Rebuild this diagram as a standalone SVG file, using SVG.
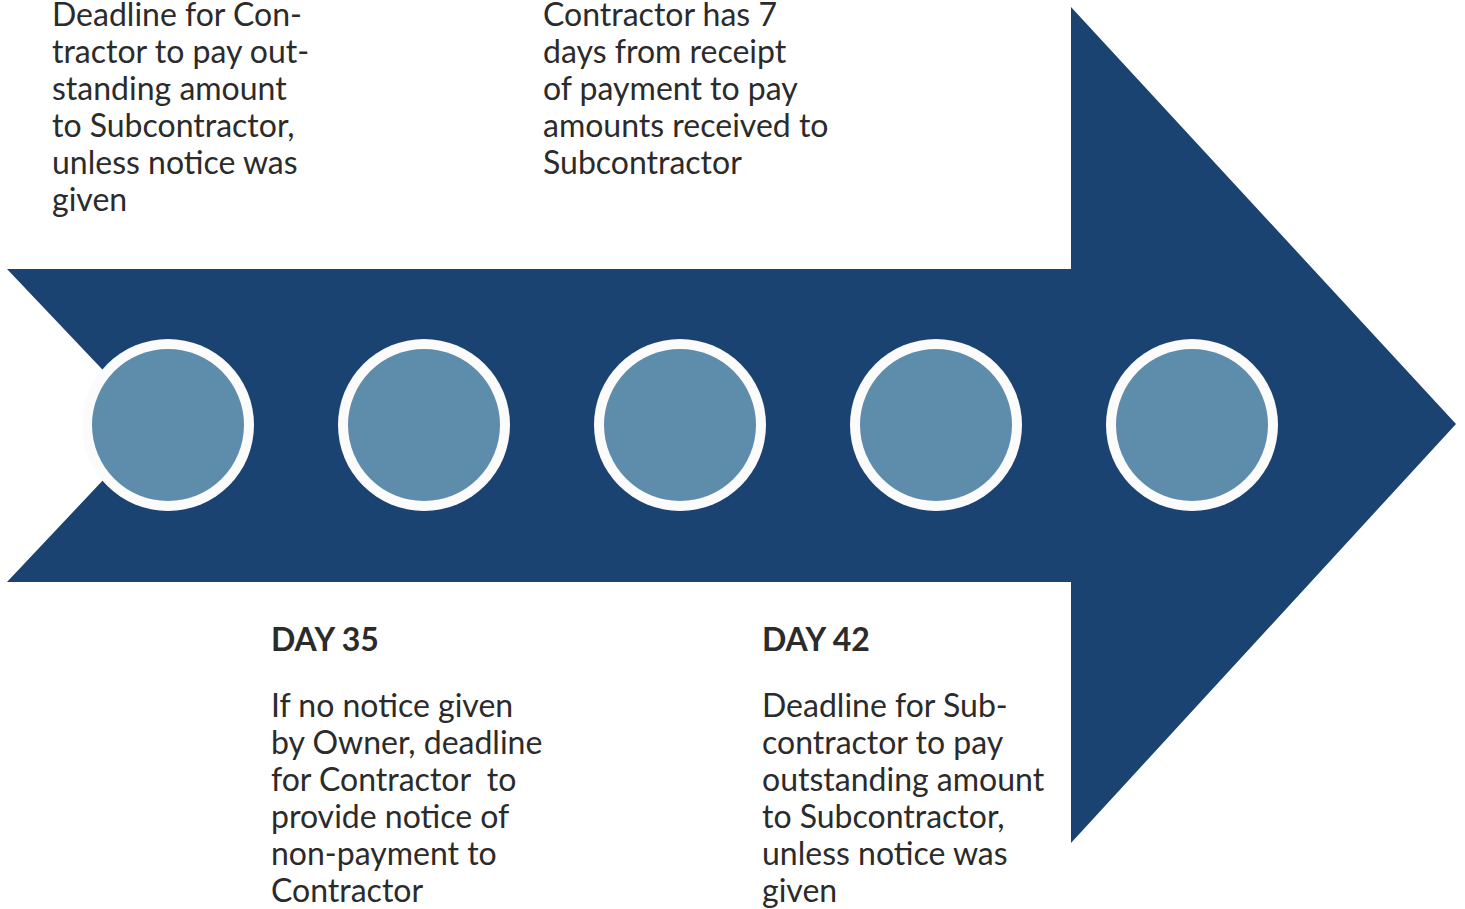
<svg xmlns="http://www.w3.org/2000/svg" width="1465" height="909" viewBox="0 0 1465 909">
<style>
.t{font-family:Lato,"Open Sans","Liberation Sans",sans-serif;font-size:32px;fill:#2b2b2b}
.h{font-weight:bold}
.ring{fill:#fbfbfc}
.dot{fill:#5889a8;fill-opacity:0.97}
</style>
<rect width="1465" height="909" fill="#ffffff"/>
<g id="arrow">
<path d="M7,269 L1071,269 L1071,7 L1456,424 L1071,843 L1071,582 L7,582 L155,425 Z" fill="#1b4372"/>
</g>
<g id="connectors"></g>
<g id="node1"><circle class="ring" cx="168" cy="425" r="86"/><circle class="dot" cx="168" cy="425" r="76"/></g>
<g id="node2"><circle class="ring" cx="424" cy="425" r="86"/><circle class="dot" cx="424" cy="425" r="76"/></g>
<g id="node3"><circle class="ring" cx="680" cy="425" r="86"/><circle class="dot" cx="680" cy="425" r="76"/></g>
<g id="node4"><circle class="ring" cx="936" cy="425" r="86"/><circle class="dot" cx="936" cy="425" r="76"/></g>
<g id="node5"><circle class="ring" cx="1192" cy="425" r="86"/><circle class="dot" cx="1192" cy="425" r="76"/></g>
<g id="text-top-left">
<text class="t" x="52" y="26">Deadline for Con-</text>
<text class="t" x="52" y="63">tractor to pay out-</text>
<text class="t" x="52" y="100">standing amount</text>
<text class="t" x="52" y="137">to Subcontractor,</text>
<text class="t" x="52" y="174">unless notice was</text>
<text class="t" x="52" y="211">given</text>
</g>
<g id="text-top-mid">
<text class="t" x="543" y="26">Contractor has 7</text>
<text class="t" x="543" y="63">days from receipt</text>
<text class="t" x="543" y="100">of payment to pay</text>
<text class="t" x="543" y="137">amounts received to</text>
<text class="t" x="543" y="174">Subcontractor</text>
</g>
<g id="text-day35">
<text class="t h" x="271" y="651">DAY 35</text>
<text class="t" x="271" y="717">If no notice given</text>
<text class="t" x="271" y="754">by Owner, deadline</text>
<text class="t" x="271" y="791" xml:space="preserve">for Contractor  to</text>
<text class="t" x="271" y="828">provide notice of</text>
<text class="t" x="271" y="865">non-payment to</text>
<text class="t" x="271" y="902">Contractor</text>
</g>
<g id="text-day42">
<text class="t h" x="762" y="651">DAY 42</text>
<text class="t" x="762" y="717">Deadline for Sub-</text>
<text class="t" x="762" y="754">contractor to pay</text>
<text class="t" x="762" y="791">outstanding amount</text>
<text class="t" x="762" y="828">to Subcontractor,</text>
<text class="t" x="762" y="865">unless notice was</text>
<text class="t" x="762" y="902">given</text>
</g>
</svg>
